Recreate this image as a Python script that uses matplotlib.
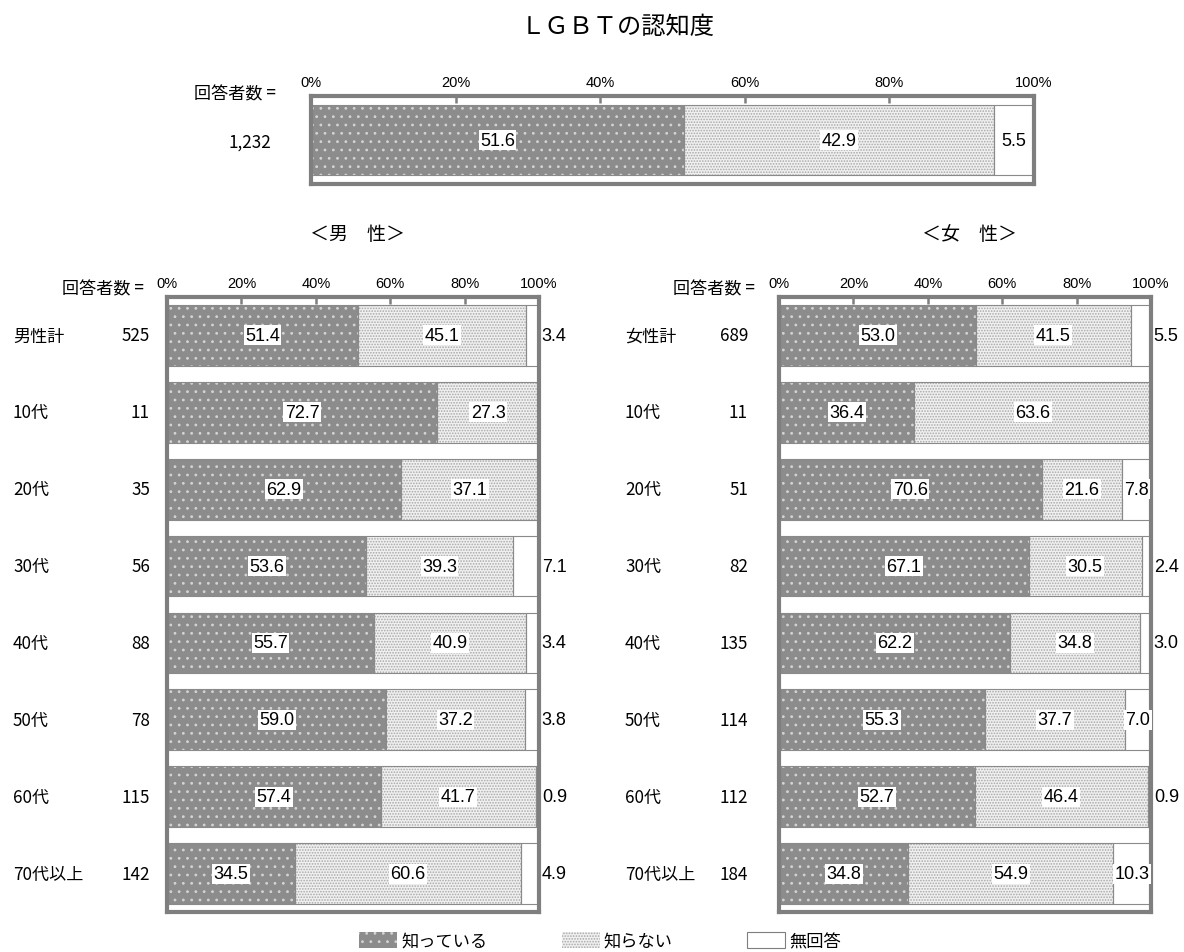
import matplotlib
matplotlib.use("Agg")
import matplotlib.pyplot as plt
from matplotlib.patches import Patch
from matplotlib.transforms import blended_transform_factory
import numpy as np

plt.rcParams["font.family"] = ["Noto Sans CJK JP", "DejaVu Sans"]
plt.rcParams["hatch.linewidth"] = 0.8

# ---- data -------------------------------------------------------------
title = "ＬＧＢＴの認知度"
series_names = ["知っている", "知らない", "無回答"]
n_header = "回答者数 ="

total_n = "1,232"
total_values = [51.6, 42.9, 5.5]

male_title = "＜男\u3000性＞"
male_groups = ["男性計", "10代", "20代", "30代", "40代", "50代", "60代", "70代以上"]
male_n = [525, 11, 35, 56, 88, 78, 115, 142]
male_know = [51.4, 72.7, 62.9, 53.6, 55.7, 59.0, 57.4, 34.5]
male_unknown = [45.1, 27.3, 37.1, 39.3, 40.9, 37.2, 41.7, 60.6]
male_na = [3.4, 0.0, 0.0, 7.1, 3.4, 3.8, 0.9, 4.9]

female_title = "＜女\u3000性＞"
female_groups = ["女性計", "10代", "20代", "30代", "40代", "50代", "60代", "70代以上"]
female_n = [689, 11, 51, 82, 135, 114, 112, 184]
female_know = [53.0, 36.4, 70.6, 67.1, 62.2, 55.3, 52.7, 34.8]
female_unknown = [41.5, 63.6, 21.6, 30.5, 34.8, 37.7, 46.4, 54.9]
female_na = [5.5, 0.0, 7.8, 2.4, 3.0, 7.0, 0.9, 10.3]

pct_ticks = [0, 20, 40, 60, 80, 100]
pct_labels = ["0%", "20%", "40%", "60%", "80%", "100%"]

# ---- styles -----------------------------------------------------------
W, H = 1184, 953
NUM_FONT = ["Liberation Sans", "DejaVu Sans"]
FRAME = "#7f7f7f"
DARK = dict(facecolor="#8c8c8c", edgecolor="#d4d4d4", hatch="..", linewidth=0)
LIGHT = dict(facecolor="#f0f0f0", edgecolor="#a8a8a8", hatch="......", linewidth=0)
BLANK = dict(facecolor="white", linewidth=0)
OUTLINE = dict(fill=False, edgecolor="#8a8a8a", linewidth=0.8)
LABEL_SIZE = 12.3
VALUE_SIZE = 13


def fx(px):
    return px / W


def fy(py):
    return 1 - py / H


def axes_px(x0, y0, x1, y1):
    return [fx(x0), fy(y1), (x1 - x0) / W, (y1 - y0) / H]


def draw_bars(ax, know, unknown, na, bar_h, inside_min):
    know = np.asarray(know, float)
    unknown = np.asarray(unknown, float)
    na = np.asarray(na, float)
    y = np.arange(len(know))
    ax.barh(y, know, height=bar_h, **DARK)
    ax.barh(y, unknown, left=know, height=bar_h, **LIGHT)
    has_na = na > 0
    ax.barh(y[has_na], na[has_na], left=(know + unknown)[has_na], height=bar_h, **BLANK)
    ax.barh(y, know, height=bar_h, **OUTLINE)
    ax.barh(y, unknown, left=know, height=bar_h, **OUTLINE)
    ax.barh(y[has_na], na[has_na], left=(know + unknown)[has_na], height=bar_h, **OUTLINE)

    box = dict(facecolor="white", edgecolor="none", pad=1.0)
    for yi, k, u, r in zip(y, know, unknown, na):
        ax.text(k / 2, yi, f"{k:.1f}", ha="center", va="center", fontsize=VALUE_SIZE,
                family=NUM_FONT, bbox=box, zorder=5)
        ax.text(k + u / 2, yi, f"{u:.1f}", ha="center", va="center",
                fontsize=VALUE_SIZE, family=NUM_FONT, bbox=box, zorder=5)
        if r >= inside_min:
            ax.text(k + u + r / 2, yi, f"{r:.1f}", ha="center", va="center",
                    fontsize=VALUE_SIZE, family=NUM_FONT, bbox=box, zorder=5)
        elif r > 0:
            ax.annotate(f"{r:.1f}", xy=(100, yi), xytext=(2.0, 0),
                        textcoords="offset points", ha="left", va="center",
                        fontsize=VALUE_SIZE, family=NUM_FONT, annotation_clip=False)

    ax.set_xlim(0, 100)
    ax.set_ylim(len(know) - 0.5, -0.5)
    ax.set_yticks([])
    ax.xaxis.tick_top()
    ax.set_xticks(pct_ticks)
    ax.set_xticklabels(pct_labels, family=NUM_FONT)
    ax.tick_params(axis="x", direction="in", length=5, width=1.8, color=FRAME,
                   pad=5, labelsize=10.5)
    for sp in ax.spines.values():
        sp.set_color(FRAME)
        sp.set_linewidth(3)


fig = plt.figure(figsize=(W / 100, H / 100), dpi=100)
fig.text(fx(618), fy(27), title, ha="center", va="center", fontsize=17.5)

# overall
ax_top = fig.add_axes(axes_px(311, 97, 1034, 185))
draw_bars(ax_top, [total_values[0]], [total_values[1]], [total_values[2]], 0.8, 5)
fig.text(fx(276), fy(94), n_header, ha="right", va="center", fontsize=LABEL_SIZE)
fig.text(fx(271), fy(143), total_n, ha="right", va="center", fontsize=LABEL_SIZE)

# by sex
panels = [
    (male_title, male_groups, male_n, male_know, male_unknown, male_na,
     167, 539, 357, 13, 150, 144, 7.5),
    (female_title, female_groups, female_n, female_know, female_unknown, female_na,
     779, 1151, 970, 625, 748, 755, 6.0),
]
for (ttl, groups, ns, kn, un, na, x0, x1, tx, gx, nx, hx, lim) in panels:
    ax = fig.add_axes(axes_px(x0, 298, x1, 913))
    draw_bars(ax, kn, un, na, 0.79, lim)
    fig.text(fx(tx), fy(235), ttl, ha="center", va="center", fontsize=13.7)
    fig.text(fx(hx), fy(289), n_header, ha="right", va="center", fontsize=LABEL_SIZE)
    tr = blended_transform_factory(fig.transFigure, ax.transData)
    for i, (g, n) in enumerate(zip(groups, ns)):
        ax.text(fx(gx), i, g, transform=tr, ha="left", va="center",
                fontsize=LABEL_SIZE)
        ax.text(fx(nx), i, f"{n:,}", transform=tr, ha="right", va="center",
                fontsize=LABEL_SIZE)

handles = [Patch(**DARK),
           Patch(**LIGHT),
           Patch(facecolor="white", edgecolor=FRAME, linewidth=0.8)]
fig.legend(handles, series_names, loc="center", bbox_to_anchor=(fx(600), fy(942)),
           ncol=3, frameon=False, handlelength=2.2, handleheight=1.0,
           columnspacing=4.3, handletextpad=0.25, fontsize=12.4,
           borderpad=0, borderaxespad=0)

fig.savefig("out.png", dpi=100)
